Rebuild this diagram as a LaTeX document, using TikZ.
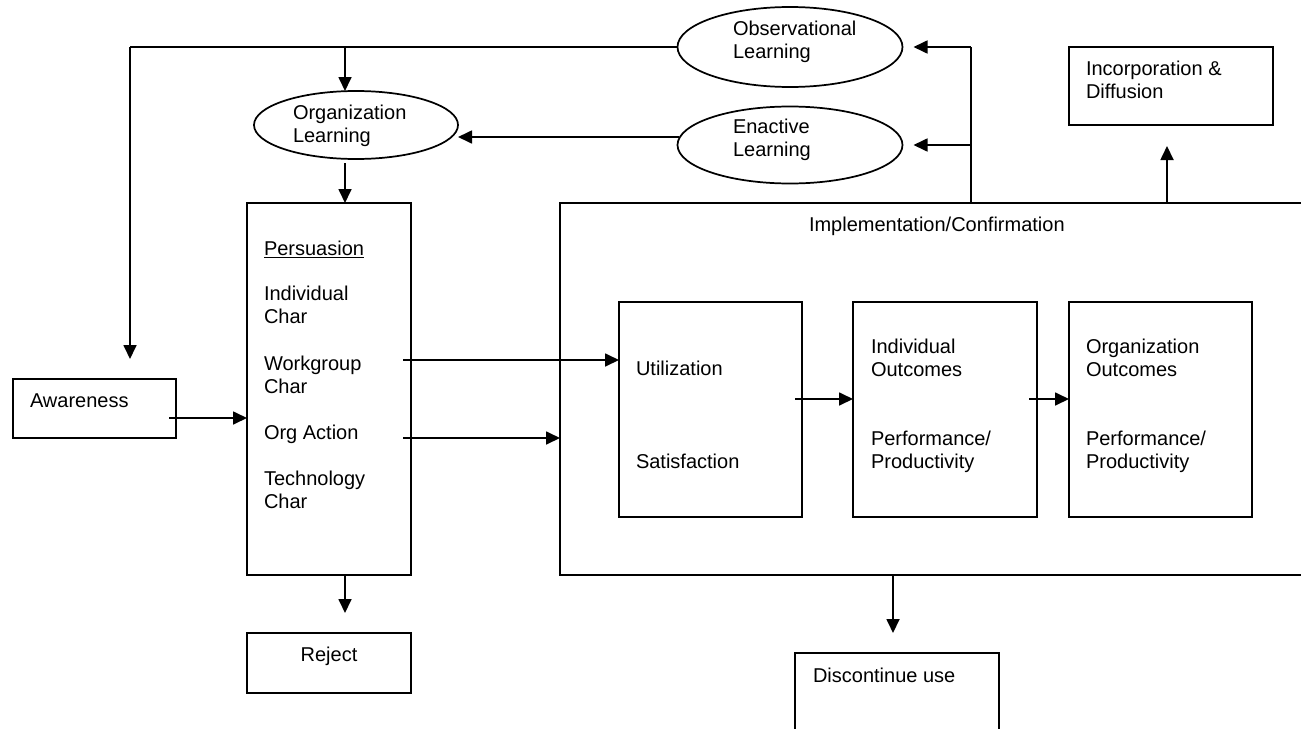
\documentclass[tikz,border=0pt]{standalone}
\usepackage{fontspec}
\setmainfont{Liberation Sans}
\usetikzlibrary{arrows.meta,shapes.geometric,fit}
\newcommand\mlines[1]{\begin{tabular}[t]{@{}l@{}}#1\end{tabular}}
\begin{document}
\begin{tikzpicture}[x=0.75pt,y=-0.75pt,
  every node/.style={inner sep=0pt, outer sep=0pt},
  box/.style={draw, line width=1.3pt, rectangle, inner sep=0pt},
  oval/.style={draw, line width=1.3pt, ellipse, inner sep=0pt},
  txt/.style={anchor=base west, font=\fontsize{15pt}{17.6pt}\selectfont},
  conn/.style={line width=1.3pt},
  arr/.style={line width=1.3pt, -{Triangle[length=10.5pt,width=9.75pt]}},
]
\useasboundingbox (0,0) rectangle (1301,728);
\clip (0,0) rectangle (1301,728);

% boxes
\node[box, fit={(13,379) (176,438)}] (aware) {};
\node[box, fit={(247,203) (411,575)}] (pers) {};
\node[box, fit={(247,633) (411,693)}] (reject) {};
\node[box, fit={(560,203) (1340,575)}] (impl) {};
\node[box, fit={(619,302) (802,517)}] (util) {};
\node[box, fit={(853,302) (1037,517)}] (indout) {};
\node[box, fit={(1069,302) (1252,517)}] (orgout) {};
\node[box, fit={(1069,47) (1273,125)}] (incorp) {};
\node[box, fit={(795,653) (999,760)}] (disc) {};

% ellipses
\node[oval, minimum width=168.75pt, minimum height=60pt] (obs) at (790,47) {};
\node[oval, minimum width=168.75pt, minimum height=57.75pt] (enact) at (790,145) {};
\node[oval, minimum width=153pt, minimum height=51pt] (orgl) at (356,125) {};

% texts
\node[txt] (t-aware) at (30,407) {Awareness};
\node[txt] (t-pers) at (264,255) {\underline{Persuasion}};
\node[txt] (t-ind) at (264,300) {\mlines{Individual\\Char}};
\node[txt] (t-wg) at (264,370) {\mlines{Workgroup\\Char}};
\node[txt] (t-oa) at (264,439) {Org Action};
\node[txt] (t-tech) at (264,485) {\mlines{Technology\\Char}};
\node[txt, anchor=base] (t-rej) at (329,661) {Reject};
\node[txt] (t-impl) at (809,231) {Implementation/Confirmation};
\node[txt] (t-util) at (636,375) {Utilization};
\node[txt] (t-sat) at (636,468) {Satisfaction};
\node[txt] (t-io) at (871,353) {\mlines{Individual\\Outcomes}};
\node[txt] (t-ip) at (871,445) {\mlines{Performance/\\Productivity}};
\node[txt] (t-oo) at (1086,353) {\mlines{Organization\\Outcomes}};
\node[txt] (t-op) at (1086,445) {\mlines{Performance/\\Productivity}};
\node[txt] (t-inc) at (1086,75) {\mlines{Incorporation \&\\Diffusion}};
\node[txt] (t-disc) at (813,682) {Discontinue use};
\node[txt] (t-obs) at (733,35) {\mlines{Observational\\Learning}};
\node[txt] (t-ena) at (733,133) {\mlines{Enactive\\Learning}};
\node[txt] (t-orgl) at (293,119) {\mlines{Organization\\Learning}};

% connector points
\coordinate (tl) at (130,47);
\coordinate (jo) at (345,47);
\coordinate (awtop) at (130,359);
\coordinate (o2) at (345,163);
\coordinate (e1) at (679,137);
\coordinate (a1) at (169,418);
\coordinate (w1) at (403,360);
\coordinate (oa) at (403,438);
\coordinate (u1) at (795,399);
\coordinate (i1) at (1029,399);
\coordinate (f0) at (971,203);
\coordinate (fo) at (971,47);
\coordinate (fe) at (971,145);
\coordinate (c0) at (1167,203);
\coordinate (d0) at (893,575);
\coordinate (r0) at (345,575);

% connectors
\draw[conn] (obs.west) -- (tl);
\draw[arr] (tl) -- (awtop);
\draw[arr] (jo) -- (jo |- orgl.north);
\draw[arr] (o2) -- (o2 |- pers.north);
\draw[arr] (e1) -- (orgl.east |- e1);
\draw[arr] (a1) -- (a1 -| pers.west);
\draw[arr] (w1) -- (w1 -| util.west);
\draw[arr] (oa) -- (oa -| impl.west);
\draw[arr] (u1) -- (u1 -| indout.west);
\draw[arr] (i1) -- (i1 -| orgout.west);
\draw[conn] (f0) -- (fo);
\draw[arr, shorten >=8.25pt] (fo) -- (obs.east);
\draw[arr, shorten >=8.25pt] (fe) -- (enact.east |- fe);
\draw[arr, shorten >=15.75pt] (c0) -- (c0 |- incorp.south);
\draw[arr, shorten >=15pt] (d0) -- (d0 |- disc.north);
\draw[arr, shorten >=15pt] (r0) -- (r0 |- reject.north);
\end{tikzpicture}
\end{document}
